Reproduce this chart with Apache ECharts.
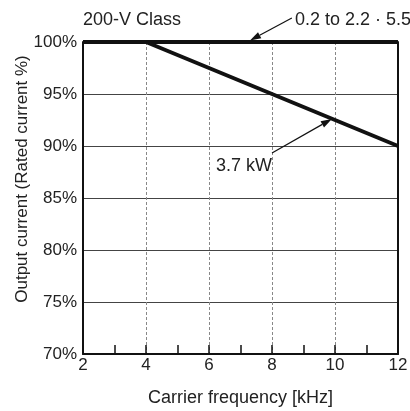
<!DOCTYPE html>
<html><head><meta charset="utf-8">
<script src="https://cdn.jsdelivr.net/npm/echarts@6/dist/echarts.min.js"></script>
<style>html,body{margin:0;padding:0;background:#fff}#c{width:410px;height:411px}</style>
</head><body><div id="c"></div>
<script>
const xTicks = [2, 4, 6, 8, 10, 12];
const yTicks = [70, 75, 80, 85, 90, 95, 100];
const seriesSmall = [[2, 100], [12, 100]];      // 0.2 to 2.2 · 5.5
const series37 = [[2, 100], [4, 100], [12, 90]]; // 3.7 kW
const arrowSmall = [[8.63, 102.3], [7.3, 100.15]];
const arrow37 = [[8.0, 89.33], [9.9, 92.6]];
const labels = { title: '200-V Class', small: '0.2 to 2.2 · 5.5', kw: '3.7 kW' };

const font = 'Liberation Sans, Arial, sans-serif';
const chart = echarts.init(document.getElementById('c'));
chart.setOption({
  animation: false,
  grid: { left: 83, right: 12, top: 42, bottom: 57, containLabel: false, outerBoundsMode: 'none' },
  xAxis: {
    type: 'value', min: xTicks[0], max: xTicks[xTicks.length - 1], interval: 2,
    name: 'Carrier frequency [kHz]', nameLocation: 'middle', nameGap: 35, nameMoveOverlap: false,
    nameTextStyle: { color: '#222', fontSize: 18, fontFamily: font },
    axisLine: { lineStyle: { color: '#111', width: 2 } },
    axisTick: { inside: true, length: 9, lineStyle: { color: '#111', width: 1.5 } },
    minorTick: { show: true, splitNumber: 2, length: 9, lineStyle: { color: '#111', width: 1.5 } },
    axisLabel: { color: '#222', fontSize: 17, fontFamily: font, margin: 3 },
    splitLine: { show: true, lineStyle: { color: '#888', type: [3, 2], width: 1 } }
  },
  yAxis: [{
    type: 'value', min: yTicks[0], max: yTicks[yTicks.length - 1], interval: 5,
    name: 'Output current (Rated current %)', nameLocation: 'middle', nameGap: 52, nameMoveOverlap: false,
    nameTextStyle: { color: '#222', fontSize: 17, fontFamily: font, padding: [0, 0, 0, 38] },
    axisLine: { show: true, lineStyle: { color: '#111', width: 2 } },
    axisTick: { show: false },
    axisLabel: { color: '#222', fontSize: 17, fontFamily: font, margin: 6, formatter: '{value}%' },
    splitLine: { show: true, lineStyle: { color: '#444', width: 1 } }
  }, {
    type: 'value', min: yTicks[0], max: yTicks[yTicks.length - 1], interval: 5, position: 'right',
    axisLine: { show: true, lineStyle: { color: '#111', width: 2 } },
    axisTick: { show: false }, axisLabel: { show: false }, splitLine: { show: false }
  }],
  series: [{
    type: 'line', data: seriesSmall, symbol: 'none', clip: false,
    lineStyle: { color: '#111', width: 4 }, z: 5
  }, {
    type: 'line', data: series37, symbol: 'none', clip: false,
    lineStyle: { color: '#111', width: 4 }, z: 5
  }]
});

function arrowGraphics(pts) {
  const a = chart.convertToPixel({ gridIndex: 0 }, pts[0]);
  const b = chart.convertToPixel({ gridIndex: 0 }, pts[1]);
  const dx = b[0] - a[0], dy = b[1] - a[1];
  const len = Math.sqrt(dx * dx + dy * dy);
  const ux = dx / len, uy = dy / len;
  const hl = 11, hw = 3.5;
  const bx = b[0] - ux * hl, by = b[1] - uy * hl;
  return [
    { type: 'line', shape: { x1: a[0], y1: a[1], x2: bx, y2: by }, style: { stroke: '#111', lineWidth: 1.2 }, z: 10 },
    { type: 'polygon', shape: { points: [[b[0], b[1]], [bx - uy * hw, by + ux * hw], [bx + uy * hw, by - ux * hw]] }, style: { fill: '#111' }, z: 10 }
  ];
}
const texts = [
  { type: 'text', left: 83, top: 11, style: { text: labels.title, fill: '#222', font: '18px ' + font } },
  { type: 'text', left: 295, top: 11, style: { text: labels.small, fill: '#222', font: '18px ' + font } },
  { type: 'text', left: 216, top: 157, style: { text: labels.kw, fill: '#222', font: '18px ' + font } }
];
chart.setOption({ graphic: texts.concat(arrowGraphics(arrowSmall), arrowGraphics(arrow37)) });
</script></body></html>
